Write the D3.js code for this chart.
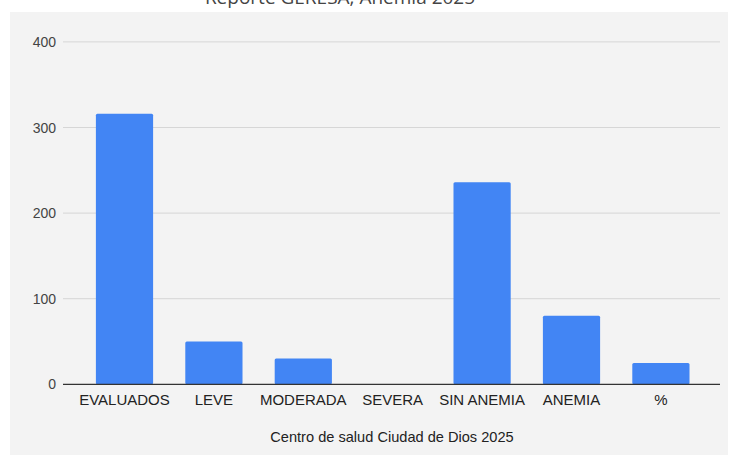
<!DOCTYPE html>
<html>
<head>
<meta charset="utf-8">
<script src="https://cdn.jsdelivr.net/npm/d3@7"></script>
<style>
  body { margin: 0; background: #fff; }
  svg { display: block; }
</style>
</head>
<body>
<svg id="chart" width="729" height="457"></svg>
<script>
const categories = ['EVALUADOS', 'LEVE', 'MODERADA', 'SEVERA', 'SIN ANEMIA', 'ANEMIA', '%'];
const values = [316, 50, 30, 0, 236, 80, 25];
const yTicks = [0, 100, 200, 300, 400];
const title = 'Reporte GERESA, Anemia 2025';
const xTitle = 'Centro de salud Ciudad de Dios 2025';

const svg = d3.select('#chart');

// grey panel
svg.append('rect')
    .attr('x', 10).attr('y', 12)
    .attr('width', 718).attr('height', 443)
    .attr('fill', '#f3f3f3');

svg.append('text')
    .attr('x', 340).attr('y', 4)
    .attr('text-anchor', 'middle')
    .attr('font-family', 'Open Sans, sans-serif')
    .attr('font-size', 19)
    .attr('fill', '#444')
    .text(title);

const plotLeft = 63, plotRight = 720, plotTop = 41.9, plotBottom = 384.3;

const x = d3.scaleBand()
    .domain(categories)
    .range([79.8, 705.6])
    .paddingInner(0.36)
    .paddingOuter(0.18);

const y = d3.scaleLinear().domain([0, 400]).range([plotBottom, plotTop]);

// gridlines
svg.append('g')
    .selectAll('line')
    .data(yTicks.filter(d => d > 0))
    .join('line')
    .attr('x1', plotLeft).attr('x2', plotRight)
    .attr('y1', d => y(d)).attr('y2', d => y(d))
    .attr('stroke', '#d6d6d6')
    .attr('stroke-width', 1);

// y labels
svg.append('g')
    .selectAll('text')
    .data(yTicks)
    .join('text')
    .attr('x', 56)
    .attr('y', d => y(d) + 5)
    .attr('text-anchor', 'end')
    .attr('font-family', 'Liberation Sans, Arial, sans-serif')
    .attr('font-size', 14)
    .attr('fill', '#444')
    .text(d => d);

// bars
svg.append('g')
    .selectAll('rect')
    .data(values)
    .join('rect')
    .attr('x', (d, i) => x(categories[i]))
    .attr('width', x.bandwidth())
    .attr('y', d => y(d))
    .attr('height', d => plotBottom - y(d))
    .attr('rx', 1.5)
    .attr('fill', '#4285f4');

// baseline
svg.append('line')
    .attr('x1', plotLeft).attr('x2', plotRight)
    .attr('y1', plotBottom).attr('y2', plotBottom)
    .attr('stroke', '#333')
    .attr('stroke-width', 1.3);

// x labels
svg.append('g')
    .selectAll('text')
    .data(categories)
    .join('text')
    .attr('x', d => x(d) + x.bandwidth() / 2)
    .attr('y', 404.5)
    .attr('text-anchor', 'middle')
    .attr('font-family', 'Liberation Sans, Arial, sans-serif')
    .attr('font-size', 15)
    .attr('fill', '#222')
    .text(d => d);

svg.append('text')
    .attr('x', 392).attr('y', 442)
    .attr('text-anchor', 'middle')
    .attr('font-family', 'Liberation Sans, Arial, sans-serif')
    .attr('font-size', 14.6)
    .attr('fill', '#222')
    .text(xTitle);
</script>
</body>
</html>
